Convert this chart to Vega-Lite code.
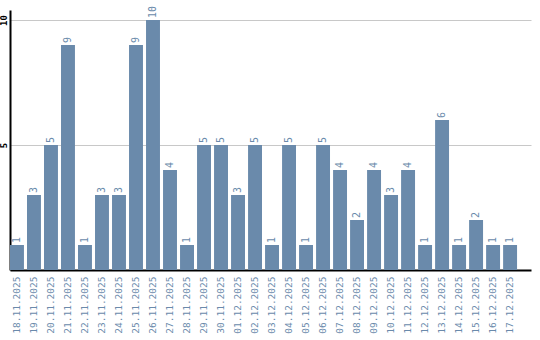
{
  "$schema": "https://vega.github.io/schema/vega-lite/v6.json",
  "width": 521,
  "height": 260,
  "autosize": {"type": "none"},
  "padding": {"left": 10, "top": 10, "right": 9, "bottom": 70},
  "background": "white",
  "config": {"view": {"stroke": null}},
  "data": {"values": [
    {"date": "18.11.2025", "value": 1},
    {"date": "19.11.2025", "value": 3},
    {"date": "20.11.2025", "value": 5},
    {"date": "21.11.2025", "value": 9},
    {"date": "22.11.2025", "value": 1},
    {"date": "23.11.2025", "value": 3},
    {"date": "24.11.2025", "value": 3},
    {"date": "25.11.2025", "value": 9},
    {"date": "26.11.2025", "value": 10},
    {"date": "27.11.2025", "value": 4},
    {"date": "28.11.2025", "value": 1},
    {"date": "29.11.2025", "value": 5},
    {"date": "30.11.2025", "value": 5},
    {"date": "01.12.2025", "value": 3},
    {"date": "02.12.2025", "value": 5},
    {"date": "03.12.2025", "value": 1},
    {"date": "04.12.2025", "value": 5},
    {"date": "05.12.2025", "value": 1},
    {"date": "06.12.2025", "value": 5},
    {"date": "07.12.2025", "value": 4},
    {"date": "08.12.2025", "value": 2},
    {"date": "09.12.2025", "value": 4},
    {"date": "10.12.2025", "value": 3},
    {"date": "11.12.2025", "value": 4},
    {"date": "12.12.2025", "value": 1},
    {"date": "13.12.2025", "value": 6},
    {"date": "14.12.2025", "value": 1},
    {"date": "15.12.2025", "value": 2},
    {"date": "16.12.2025", "value": 1},
    {"date": "17.12.2025", "value": 1}
  ]},
  "encoding": {
    "x": {
      "field": "date", "type": "nominal", "sort": null,
      "scale": {"paddingInner": 0.18, "paddingOuter": 0.41, "align": 0},
      "axis": {
        "title": null, "labelAngle": -90, "ticks": false, "grid": false,
        "domainColor": "black", "domainWidth": 2,
        "labelColor": "#6a8aab", "labelFont": "DejaVu Sans Mono", "labelFontSize": 9.5,
        "labelPadding": 6
      }
    },
    "y": {
      "field": "value", "type": "quantitative",
      "scale": {"domain": [0, 10.4], "nice": false},
      "axis": {
        "title": null, "values": [5, 10], "ticks": false, "grid": true,
        "gridColor": "#c8c8c8", "gridWidth": 1,
        "domainColor": "black", "domainWidth": 2,
        "labelAngle": -90, "labelColor": "black", "labelFont": "DejaVu Sans Mono",
        "labelFontSize": 9, "labelPadding": 2, "labelFontWeight": "bold"
      }
    }
  },
  "layer": [
    {"mark": {"type": "bar", "color": "#6a8aab"}},
    {
      "mark": {"type": "text", "angle": 270, "align": "left", "baseline": "middle", "dx": 2,
               "color": "#6a8aab", "font": "DejaVu Sans Mono", "fontSize": 10},
      "encoding": {"text": {"field": "value", "type": "quantitative"}}
    }
  ]
}
